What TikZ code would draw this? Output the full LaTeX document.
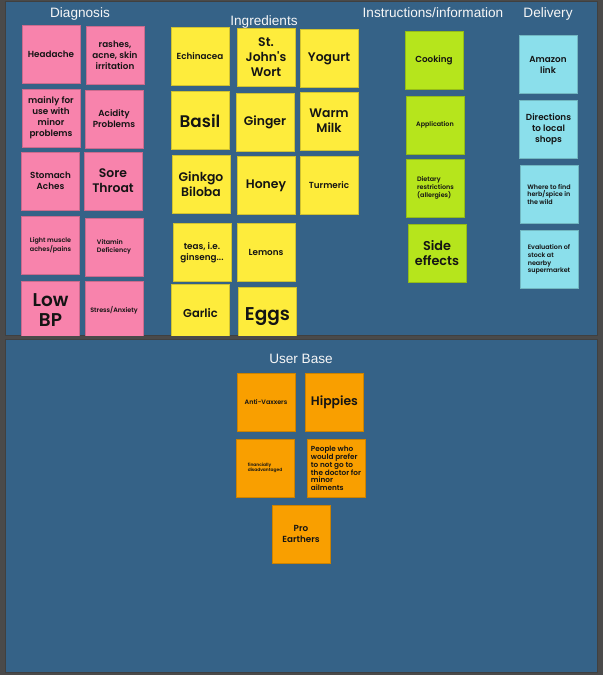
\documentclass[tikz,border=0pt]{standalone}
\usepackage{fontspec}
\setmainfont{Liberation Sans}
\newfontfamily\pop{Poppins}[BoldFont={Poppins SemiBold}]
\newcommand\fz[2]{\fontsize{#1}{#2}\selectfont}
\definecolor{bggray}{HTML}{4A4A4A}
\definecolor{panelblue}{HTML}{356287}
\definecolor{pinkc}{HTML}{F883AC}
\definecolor{yellowc}{HTML}{FEEC3C}
\definecolor{limec}{HTML}{B6E51C}
\definecolor{cyanc}{HTML}{8BDFEB}
\definecolor{orangec}{HTML}{F99F00}
\begin{document}
\begin{tikzpicture}[x=1pt,y=-1pt,
  note/.style={draw=#1!82!black, fill=#1, line width=0.5pt,
    minimum width=58pt, minimum height=58pt, inner sep=1pt,
    align=center, text=black!92},
  XS/.style={font=\pop\bfseries\fz{4.4}{5.7}},
  S/.style={font=\pop\bfseries\fz{6.4}{7.8}},
  M/.style={font=\pop\bfseries\fz{8.8}{11}},
  L/.style={font=\pop\bfseries\fz{12.4}{15}},
  XL/.style={font=\pop\bfseries\fz{18.5}{20.7}},
  ttl/.style={text=white!94!gray, font=\fz{13.6}{15}, inner sep=0pt},
  panel/.style={fill=panelblue, draw=black!75, line width=0.8pt}]
\path[fill=bggray] (0,0) rectangle (603,675);
\useasboundingbox (0,0) rectangle (603,675);
\draw[panel] (5,1.5) rectangle (597.5,335.5);
\draw[panel] (5,339) rectangle (597.5,672);
% titles
\node[ttl] (tdiag) at (80,14) {Diagnosis};
\node[ttl] (ting) at (264,22) {Ingredients};
\node[ttl] (tins) at (433,13) {Instructions/information};
\node[ttl] (tdel) at (548,14) {Delivery};
\node[ttl] (tuser) at (301,359) {User Base};
\begin{scope}
\clip (5,1.5) rectangle (597.5,335.5);
% Diagnosis
\node[note=pinkc, M] (headache) at (51,54.5) {Headache};
\node[note=pinkc, M] (rashes) at (115,55.5) {rashes,\\acne, skin\\irritation};
\node[note=pinkc, M] (mainly) at (51,118) {mainly for\\use with\\minor\\problems};
\node[note=pinkc, M] (acidity) at (114,119) {Acidity\\Problems};
\node[note=pinkc, M] (stomach) at (50.5,181) {Stomach\\Aches};
\node[note=pinkc, L] (sore) at (113,181) {Sore\\Throat};
\node[note=pinkc, S] (muscle) at (50.5,245.5) {Light muscle\\aches/pains};
\node[note=pinkc, S, align=left] (vitamin) at (114,247) {Vitamin\\Deficiency};
\node[note=pinkc, XL] (lowbp) at (50.5,310) {Low\\BP};
\node[note=pinkc, S] (stress) at (114,310) {Stress/Anxiety};
% Ingredients
\node[note=yellowc, M] (echinacea) at (200,56) {Echinacea};
\node[note=yellowc, L] (stjohn) at (266,57.5) {St.\\John's\\Wort};
\node[note=yellowc, L] (yogurt) at (329,58.5) {Yogurt};
\node[note=yellowc, XL, font=\pop\bfseries\fz{16.8}{18}] (basil) at (200,120.5) {Basil};
\node[note=yellowc, L] (ginger) at (265,122.5) {Ginger};
\node[note=yellowc, L] (milk) at (329,121) {Warm\\Milk};
\node[note=yellowc, L] (ginkgo) at (201,184) {Ginkgo\\Biloba};
\node[note=yellowc, L] (honey) at (266,185.5) {Honey};
\node[note=yellowc, M] (turmeric) at (329,185) {Turmeric};
\node[note=yellowc, M] (teas) at (202,252.5) {teas, i.e.\\ginseng...};
\node[note=yellowc, M] (lemons) at (266,252) {Lemons};
\node[note=yellowc, M, font=\pop\bfseries\fz{11.5}{13}] (garlic) at (200.5,313.5) {Garlic};
\node[note=yellowc, XL] (eggs) at (267.5,316.5) {Eggs};
% Instructions
\node[note=limec, M] (cooking) at (434,60) {Cooking};
\node[note=limec, S] (application) at (435,125) {Application};
\node[note=limec, S, align=left] (dietary) at (435.5,188) {Dietary\\restrictions\\(allergies)};
\node[note=limec, L, font=\pop\bfseries\fz{12.8}{15}] (side) at (437,253) {Side\\effects};
% Delivery
\node[note=cyanc, M] (amazon) at (548,64.5) {Amazon\\link};
\node[note=cyanc, M] (directions) at (548.5,129.5) {Directions\\to local\\shops};
\node[note=cyanc, S, align=left] (where) at (549,194.5) {Where to find\\herb/spice in\\the wild};
\node[note=cyanc, S, align=left] (evaluation) at (549,259.5) {Evaluation of\\stock at\\nearby\\supermarket};
\end{scope}
% User base
\node[note=orangec, S] (anti) at (266,402) {Anti-Vaxxers};
\node[note=orangec, L] (hippies) at (334.5,402.5) {Hippies};
\node[note=orangec, XS, align=left] (financially) at (265,468) {financially\\disadvantaged};
\node[note=orangec, S, align=left, font=\pop\bfseries\fz{7.3}{7.8}] (people) at (336,468.5) {People who\\would prefer\\to not go to\\the doctor for\\minor\\ailments};
\node[note=orangec, M] (pro) at (301,534) {Pro\\Earthers};
\end{tikzpicture}
\end{document}
